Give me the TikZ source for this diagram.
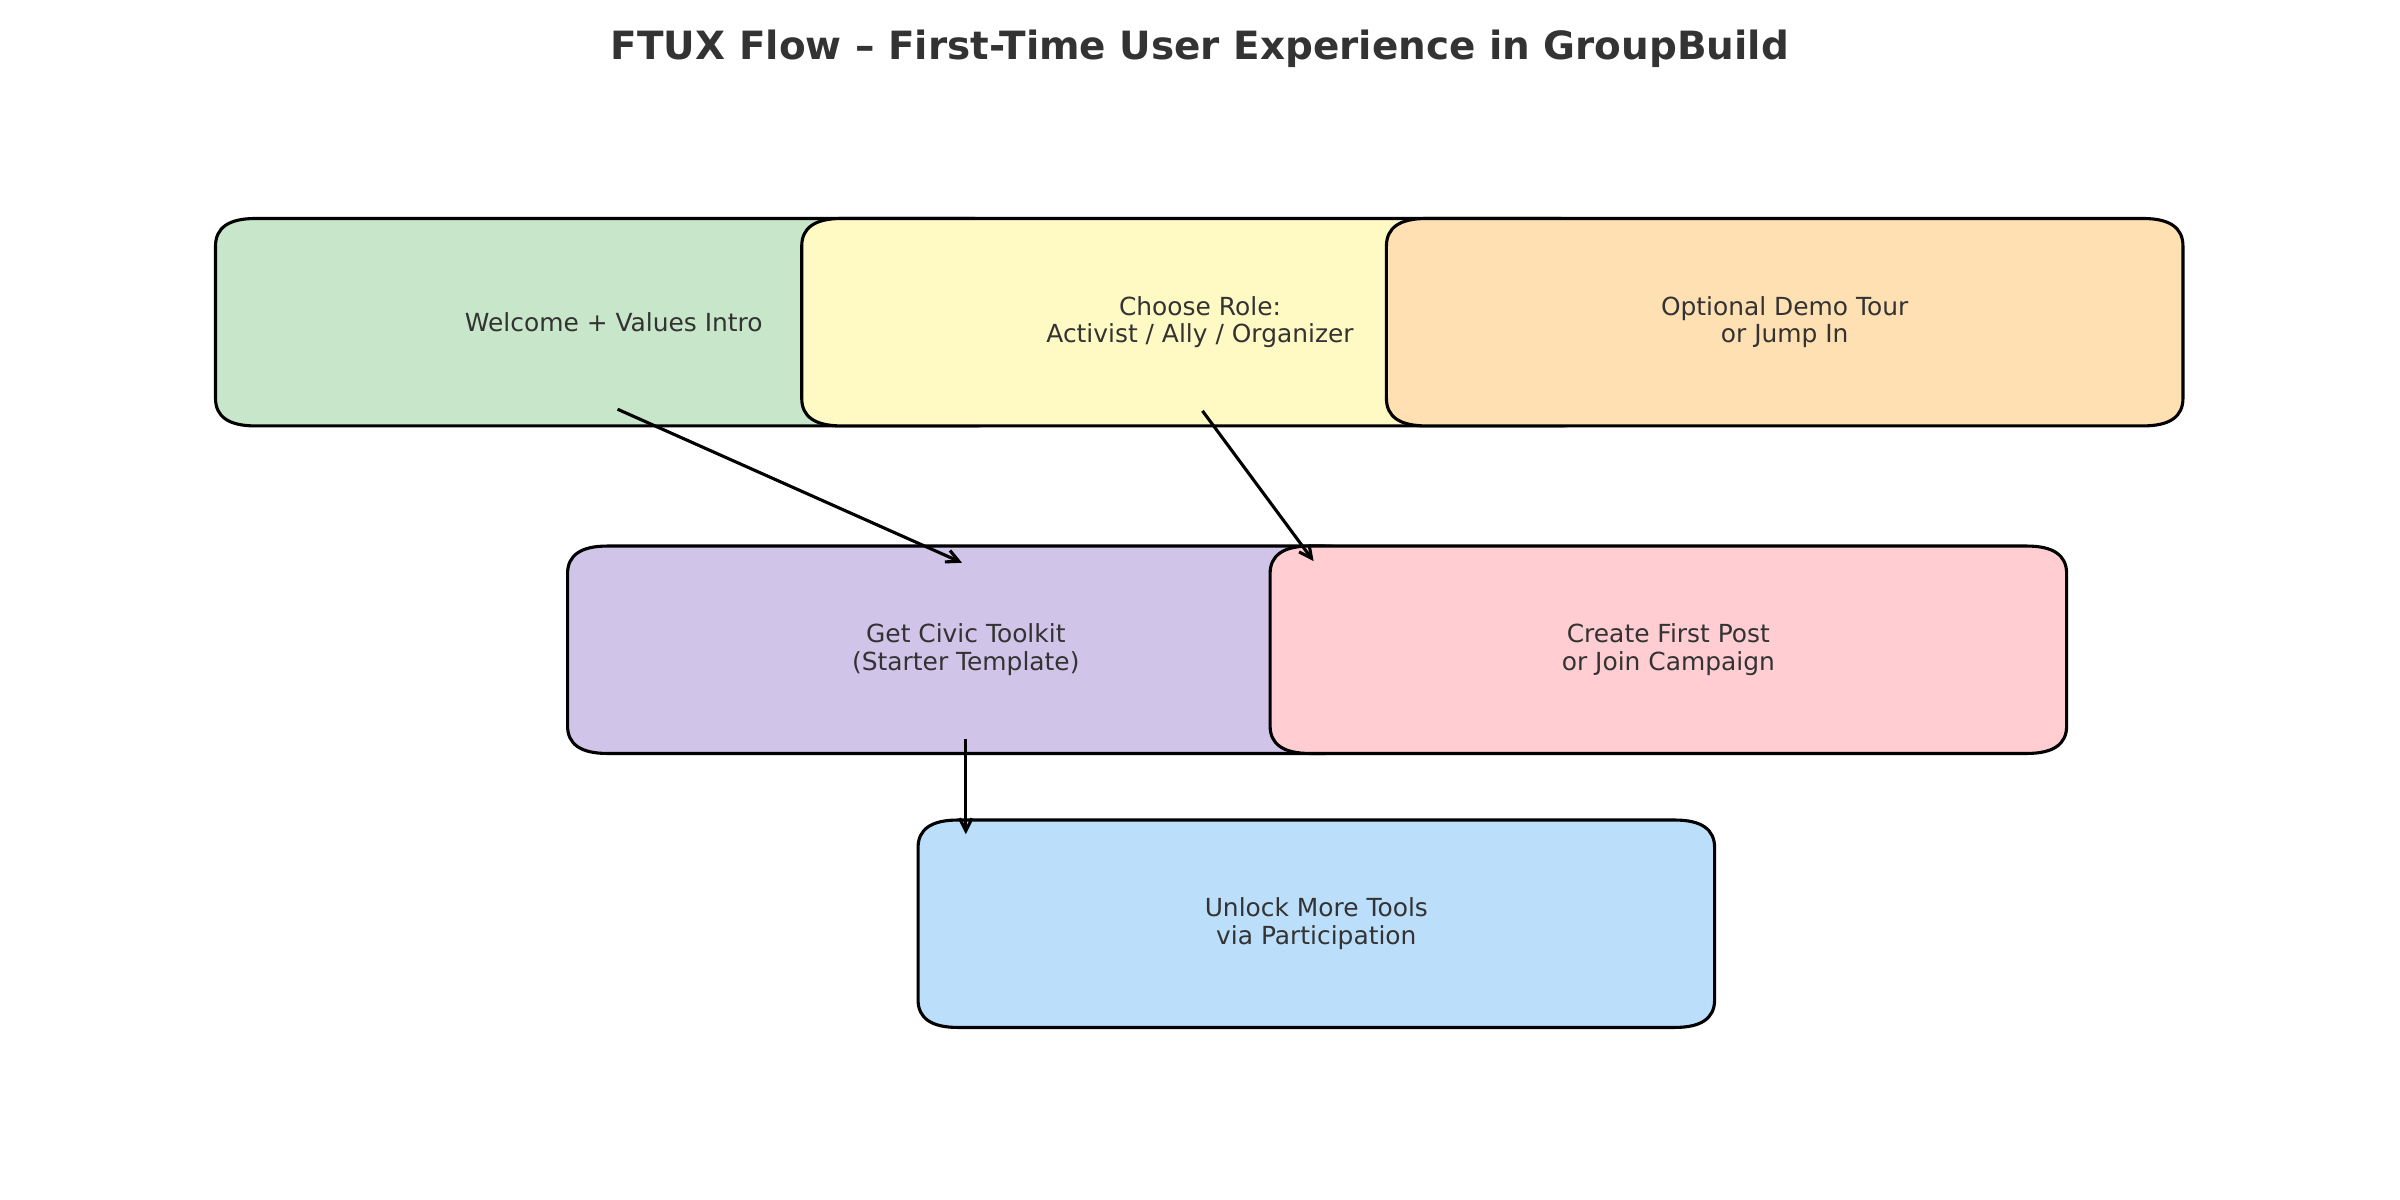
\documentclass[tikz,border=0pt]{standalone}
\usepackage{fontspec}
\setmainfont{DejaVu Sans}
\usetikzlibrary{arrows.meta,backgrounds,calc}

\definecolor{ink}{HTML}{333333}
\definecolor{stepgreen}{HTML}{C8E6C9}
\definecolor{stepyellow}{HTML}{FFF9C4}
\definecolor{steporange}{HTML}{FFE0B2}
\definecolor{steppurple}{HTML}{D1C4E9}
\definecolor{steppink}{HTML}{FFCDD2}
\definecolor{stepblue}{HTML}{BBDEFB}

% corner rounding of the step boxes (horizontal / vertical extent)
\def\cdx{0.674cm}
\def\cdy{0.467cm}

% filled box with quadratic-curve corners around a named node, drawn behind its text
\newcommand{\flowbox}[2]{%
  \begin{scope}[on background layer]
    \draw[boxedge, fill=#2]
      ([xshift=\cdx]#1.north west) -- ([xshift=-\cdx]#1.north east)
      .. controls ([xshift=-\cdx/3]#1.north east) and ([yshift=-\cdy/3]#1.north east)
      .. ([yshift=-\cdy]#1.north east)
      -- ([yshift=\cdy]#1.south east)
      .. controls ([yshift=\cdy/3]#1.south east) and ([xshift=-\cdx/3]#1.south east)
      .. ([xshift=-\cdx]#1.south east)
      -- ([xshift=\cdx]#1.south west)
      .. controls ([xshift=\cdx/3]#1.south west) and ([yshift=\cdy/3]#1.south west)
      .. ([yshift=\cdy]#1.south west)
      -- ([yshift=-\cdy]#1.north west)
      .. controls ([yshift=-\cdy/3]#1.north west) and ([xshift=\cdx/3]#1.north west)
      .. ([xshift=\cdx]#1.north west)
      -- cycle;
  \end{scope}}

\begin{document}
\begin{tikzpicture}[x=0.025918cm, y=-0.025918cm,
  stepnode/.style={text=ink, font=\fontsize{12}{13.3}\selectfont, align=center,
    minimum width=13.477cm, minimum height=3.499cm, inner sep=0pt},
  boxedge/.style={draw=black, line width=1.5pt, line join=round},
  flow/.style={draw=black, line width=1.5pt,
    -{Straight Barb[length=6pt, width=6pt]}, shorten <=2pt, shorten >=2pt}]

\useasboundingbox (0,0) rectangle (1568,784);

% title
\node[text=ink, font=\fontsize{18.75}{22}\selectfont\bfseries] (title) at (784,32)
  {FTUX Flow – First-Time User Experience in GroupBuild};

% top row
\node[stepnode] (welcome) at (401,210.5) {Welcome + Values Intro};
\flowbox{welcome}{stepgreen}
\node[stepnode] (role) at (784,210.5) {Choose Role:\\Activist / Ally / Organizer};
\flowbox{role}{stepyellow}
\node[stepnode] (demo) at (1166,210.5) {Optional Demo Tour\\or Jump In};
\flowbox{demo}{steporange}

% middle row
\node[stepnode] (toolkit) at (631,424.5) {Get Civic Toolkit\\(Starter Template)};
\flowbox{toolkit}{steppurple}
\node[stepnode] (post) at (1090,424.5) {Create First Post\\or Join Campaign};
\flowbox{post}{steppink}

% bottom row
\node[stepnode] (unlock) at (860,603.5) {Unlock More Tools\\via Participation};
\flowbox{unlock}{stepblue}

% connectors
\draw[flow] ($(welcome.south)+(0,-12)$) -- ($(toolkit.north)+(0,12)$);
\draw[flow] ($(role.south)+(0,-12)$) -- ($(post.north west)+(30,12)$);
\draw[flow] ($(toolkit.south)+(0,-12)$) -- ($(toolkit.south |- unlock.north)+(0,12)$);

\end{tikzpicture}
\end{document}
